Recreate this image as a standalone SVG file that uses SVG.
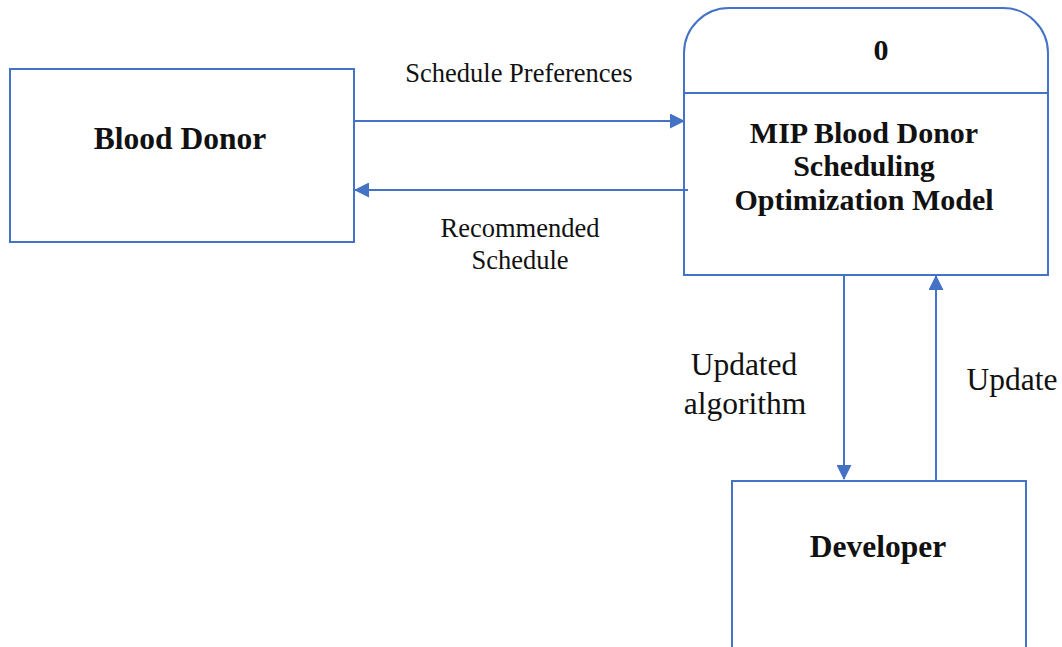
<svg xmlns="http://www.w3.org/2000/svg" width="1062" height="647" viewBox="0 0 1062 647">
<style>
.box{fill:#fff;stroke:#4472C4;stroke-width:2}
.ln{stroke:#4472C4;stroke-width:2;fill:none}
.t{font-family:"Liberation Serif","Times New Roman",serif;fill:#111;text-anchor:middle}
.b{font-weight:bold;font-size:31.5px}
.p{font-weight:bold;font-size:30px}
.s{font-size:26.5px}
.m{font-size:31.5px}
</style>
<defs>
<marker id="ah2" markerWidth="15" markerHeight="15" refX="14" refY="7.5" orient="auto" markerUnits="userSpaceOnUse" viewBox="0 0 15 15">
<path d="M0,0 L15,7.5 L0,15 Z" fill="#4472C4"/>
</marker>
</defs>
<rect width="1062" height="647" fill="#fff"/>
<g id="blood-donor">
<rect class="box" x="10" y="69" width="344" height="173"/>
<text class="t b" x="180" y="149">Blood Donor</text>
</g>
<g id="process-0">
<path class="box" d="M684,275 L684,53 A45,45 0 0 1 729,8 L1003,8 A45,45 0 0 1 1048,53 L1048,275 Z"/>
<line class="ln" x1="684" y1="93" x2="1048" y2="93"/>
<text class="t p" x="881" y="60">0</text>
<text class="t p" x="864" y="143">MIP Blood Donor</text>
<text class="t p" x="864" y="176">Scheduling</text>
<text class="t p" x="864" y="210">Optimization Model</text>
</g>
<g id="developer">
<rect class="box" x="732" y="481" width="294" height="180"/>
<text class="t b" x="878" y="557">Developer</text>
</g>
<g id="connectors">
<line class="ln" x1="354" y1="121" x2="684" y2="121" marker-end="url(#ah2)"/>
<line class="ln" x1="688" y1="190" x2="355" y2="190" marker-end="url(#ah2)"/>
<line class="ln" x1="844" y1="276" x2="844" y2="479" marker-end="url(#ah2)"/>
<line class="ln" x1="936" y1="481" x2="936" y2="276" marker-end="url(#ah2)"/>
<text class="t s" x="519" y="82">Schedule Preferences</text>
<text class="t s" x="520" y="237">Recommended</text>
<text class="t s" x="520" y="269">Schedule</text>
<text class="t m" x="744" y="375">Updated</text>
<text class="t m" x="745" y="414">algorithm</text>
<text class="t m" x="1012" y="390">Update</text>
</g>
</svg>
